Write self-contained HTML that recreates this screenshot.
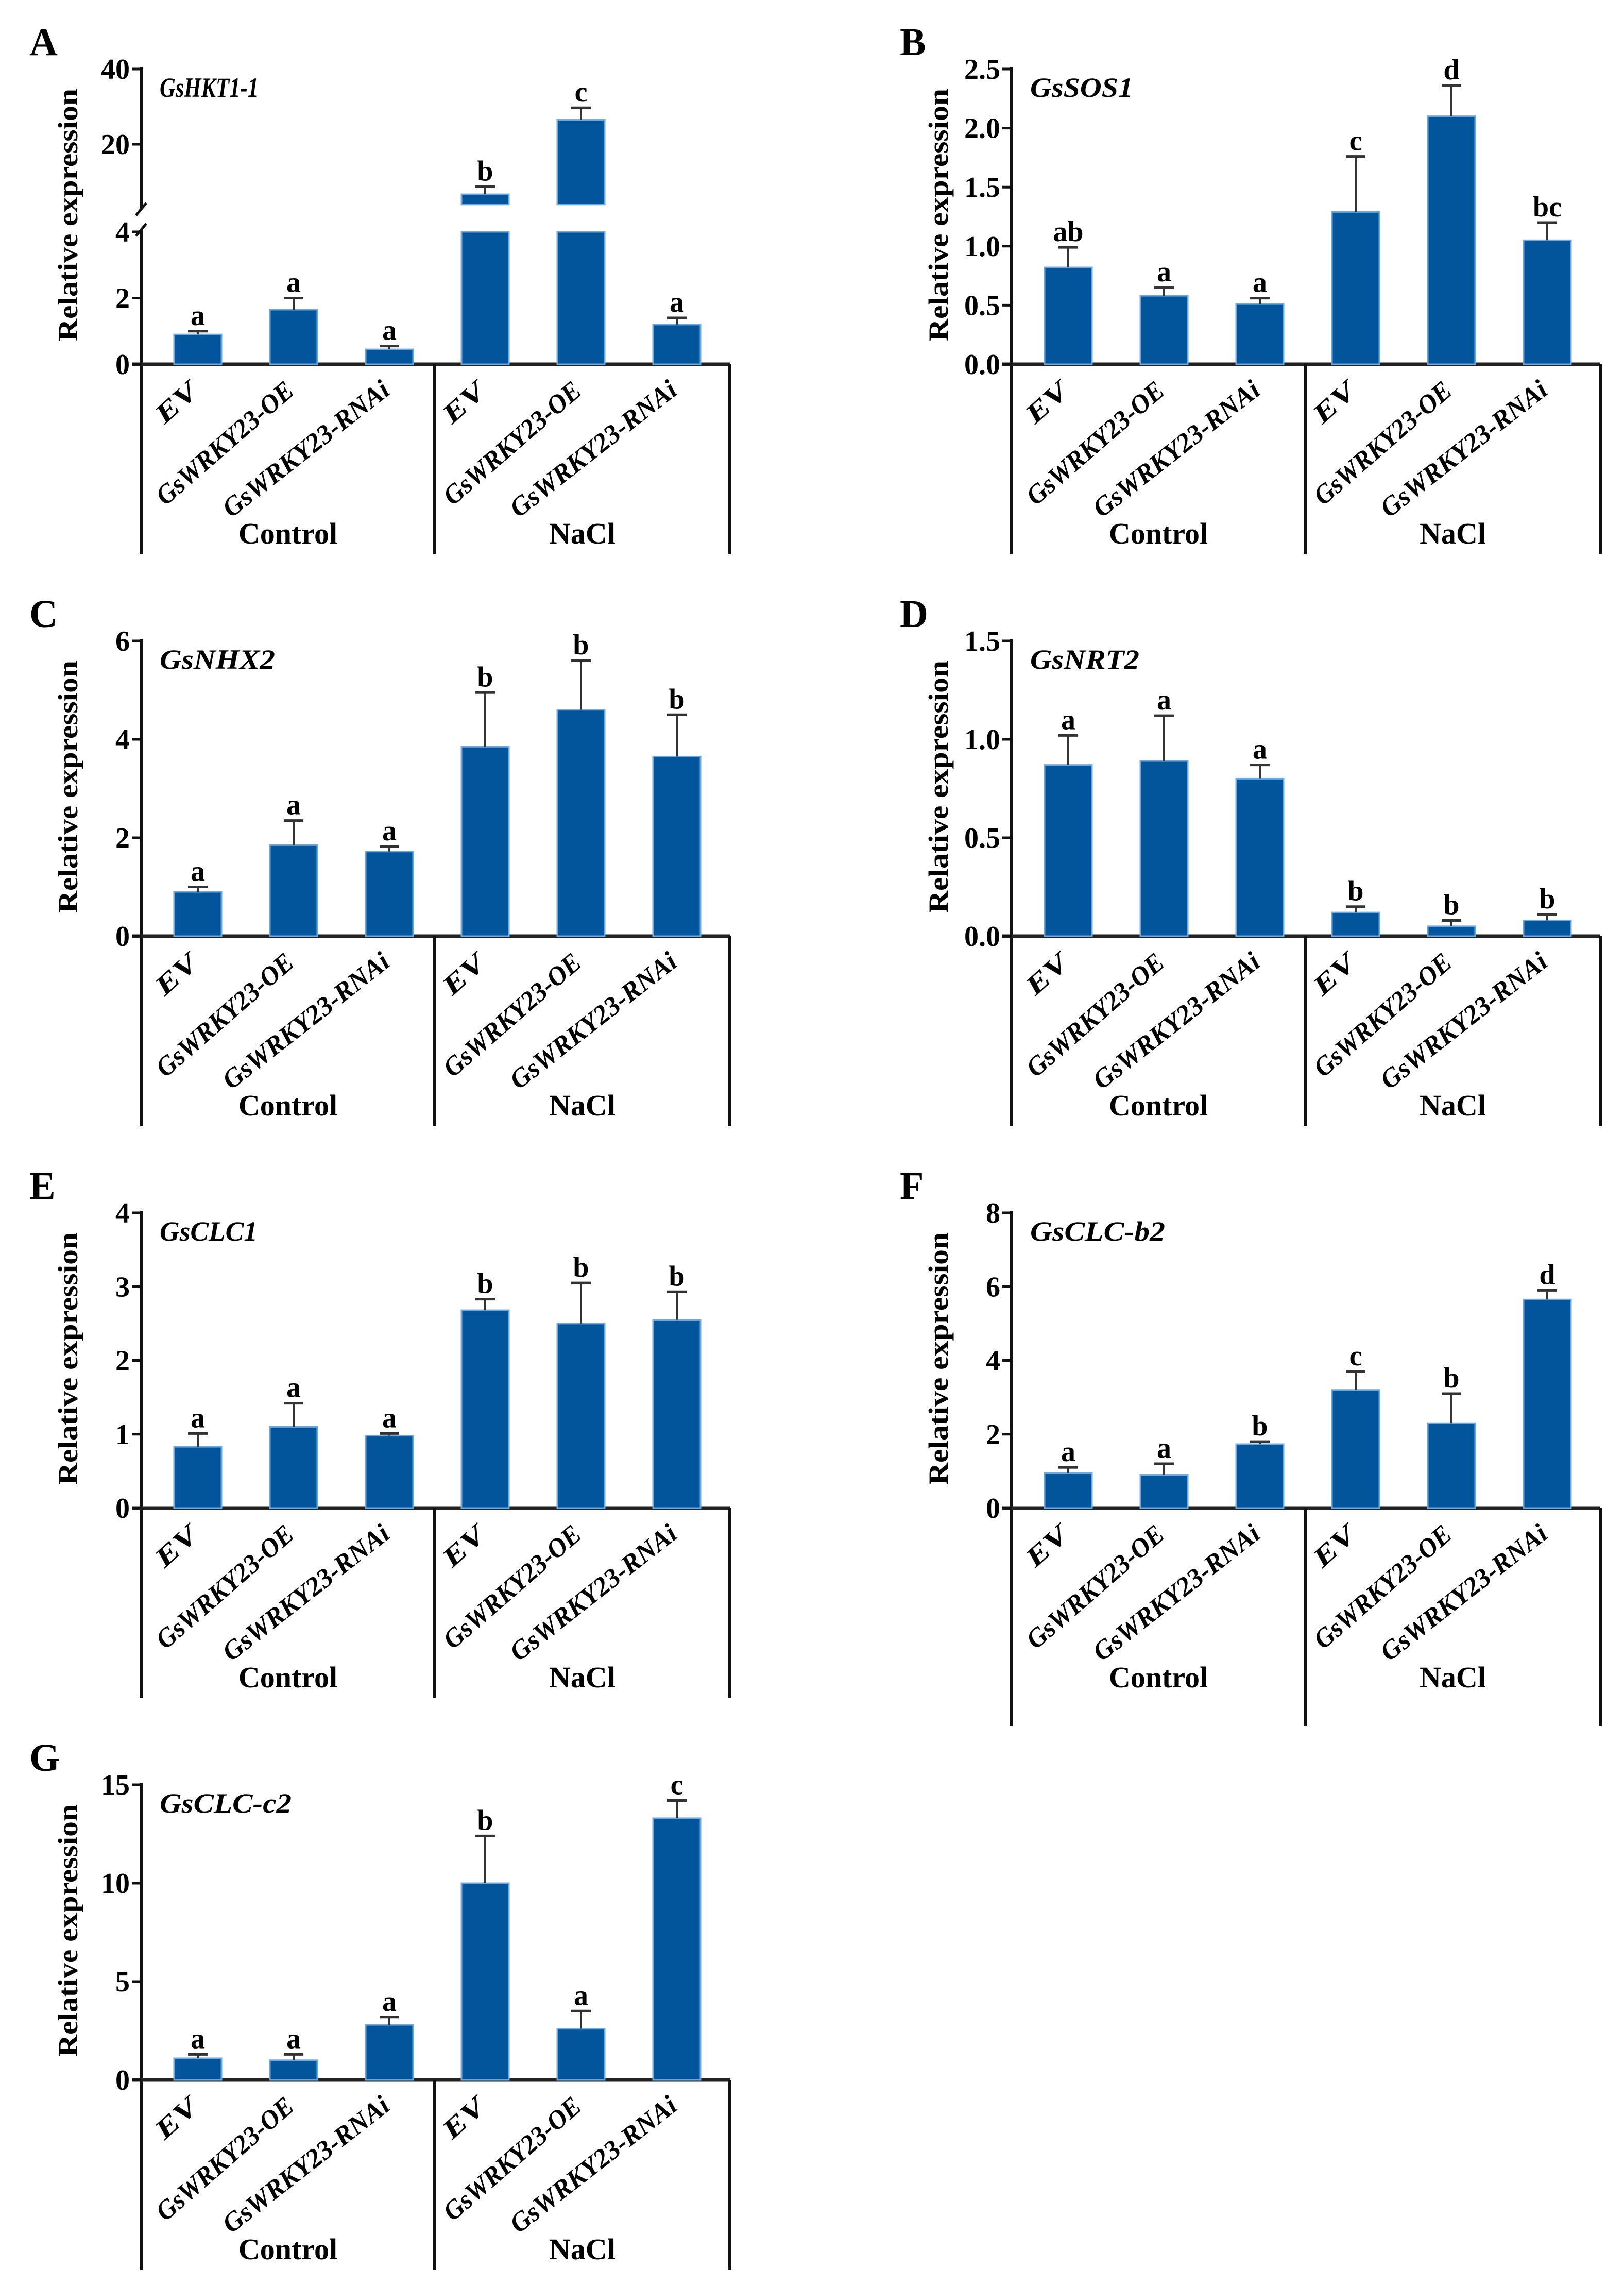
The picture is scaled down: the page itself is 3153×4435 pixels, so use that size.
<!DOCTYPE html>
<html><head><meta charset="utf-8"><style>
html,body{margin:0;padding:0;background:#fff;}
svg{display:block;}
text{font-family:"Liberation Serif",serif;font-weight:bold;}
</style></head><body>
<svg id="fig" width="3153" height="4435" viewBox="0 0 3153 4435" xmlns="http://www.w3.org/2000/svg"></svg>
<script>
const categories = ["EV","GsWRKY23-OE","GsWRKY23-RNAi","EV","GsWRKY23-OE","GsWRKY23-RNAi"];
const groups = ["Control","NaCl"];
const valsA = [0.9,1.65,0.45,6.7,26.5,1.2];
const errsA = [0.1,0.35,0.1,2.0,3.2,0.2];
const letA = ["a","a","a","b","c","a"];
const valsB = [0.82,0.58,0.51,1.29,2.1,1.05];
const errsB = [0.17,0.07,0.05,0.47,0.26,0.15];
const letB = ["ab","a","a","c","d","bc"];
const valsC = [0.9,1.85,1.72,3.85,4.6,3.65];
const errsC = [0.1,0.5,0.1,1.1,1.0,0.85];
const letC = ["a","a","a","b","b","b"];
const valsD = [0.87,0.89,0.8,0.12,0.05,0.08];
const errsD = [0.15,0.23,0.07,0.03,0.03,0.03];
const letD = ["a","a","a","b","b","b"];
const valsE = [0.83,1.1,0.98,2.68,2.5,2.55];
const errsE = [0.18,0.32,0.03,0.15,0.55,0.38];
const letE = ["a","a","a","b","b","b"];
const valsF = [0.95,0.9,1.73,3.2,2.3,5.65];
const errsF = [0.15,0.3,0.07,0.5,0.8,0.25];
const letF = ["a","a","b","c","b","d"];
const valsG = [1.1,1.0,2.8,10.0,2.6,13.3];
const errsG = [0.2,0.3,0.4,2.4,0.9,0.9];
const letG = ["a","a","a","b","a","c"];
const ticksA_low = [0,2,4];
const ticksA_high = [20,40];
const ticksB = [0,0.5,1.0,1.5,2.0,2.5];
const ticksC = [0,2,4,6];
const ticksD = [0,0.5,1.0,1.5];
const ticksE = [0,1,2,3,4];
const ticksF = [0,2,4,6,8];
const ticksG = [0,5,10,15];

const NS="http://www.w3.org/2000/svg";
const svg=document.getElementById('fig');
function mk(tag,attrs,parent,txt){const e=document.createElementNS(NS,tag);for(const k in attrs)e.setAttribute(k,attrs[k]);if(txt!==undefined)e.textContent=txt;(parent||svg).appendChild(e);return e;}

const BAR="#02549b", EDGE="#6fa8dc";
const W=1143, SEP=570, H=573;

function panel(cfg){
  const g=mk('g',{});
  
  
  const ax=cfg.x, zy=cfg.zero, top=zy-H, bottom=zy+(cfg.extra||368);
  const max=cfg.ticks[cfg.ticks.length-1];
  const yS = cfg.yScale || (v=>zy-(v/max)*H);
  const pl=mk('text',{x:ax-217,y:zy-600,'font-size':76},g,cfg.letter);
  
  
  const yt=mk('text',{x:0,y:0,'font-size':54,'text-anchor':'middle',transform:`translate(${ax-124},${zy-290}) rotate(-90)`,textLength:490,lengthAdjust:'spacingAndGlyphs'},g,'Relative expression');
  
  
  const gt=mk('text',{x:ax+36,y:top+54,'font-size':54,'font-style':'italic',textLength:cfg.glen,lengthAdjust:'spacingAndGlyphs'},g,cfg.gene);
  
  
  if(cfg.broken){
    const a1=mk('line',{x1:ax,y1:top-3,x2:ax,y2:404,stroke:'#111','stroke-width':6},g);
    
    const a2=mk('line',{x1:ax,y1:446,x2:ax,y2:bottom,stroke:'#111','stroke-width':6},g);
    
    mk('line',{x1:ax-10,y1:418,x2:ax+10,y2:394,stroke:'#111','stroke-width':5},g);
    mk('line',{x1:ax-10,y1:458,x2:ax+10,y2:434,stroke:'#111','stroke-width':5},g);
  } else {
    const a=mk('line',{x1:ax,y1:top-3,x2:ax,y2:bottom,stroke:'#111','stroke-width':6},g);
    
  }
  const xa=mk('line',{x1:ax-18,y1:zy,x2:ax+W,y2:zy,stroke:'#222','stroke-width':7},g);
  
  mk('line',{x1:ax+SEP,y1:zy,x2:ax+SEP,y2:bottom,stroke:'#111','stroke-width':6},g);
  mk('line',{x1:ax+W,y1:zy,x2:ax+W,y2:bottom,stroke:'#111','stroke-width':6},g);
  cfg.ticks.forEach(t=>{
    const y=yS(t);
    mk('line',{x1:ax-18,y1:y,x2:ax,y2:y,stroke:'#111','stroke-width':5},g);
    const tl=mk('text',{x:ax-22,y:y+19,'font-size':56,'text-anchor':'end'},g,cfg.fmt?t.toFixed(1):String(t));
    
  });
  cfg.vals.forEach((v,i)=>{
    const bx=ax+64+i*186, bw=92, cx=bx+bw/2;
    if(cfg.broken && v>4){
      const r1=mk('rect',{x:bx,y:yS(4),width:bw,height:zy-yS(4),fill:BAR,stroke:EDGE,'stroke-width':3},g);
      
      const u=cfg.upper;
      const r2=mk('rect',{x:bx,y:u(v),width:bw,height:u(4)-u(v),fill:BAR,stroke:EDGE,'stroke-width':3},g);
      
    } else {
      const r=mk('rect',{x:bx,y:yS(v),width:bw,height:zy-yS(v),fill:BAR,stroke:EDGE,'stroke-width':3},g);
      
    }
    const f=(cfg.broken&&v>4)?cfg.upper:yS;
    const y0=f(v), y1=f(v+cfg.errs[i]);
    const eb=mk('line',{x1:cx,y1:y0,x2:cx,y2:y1,stroke:'#333','stroke-width':4},g);
    
    mk('line',{x1:cx-19,y1:y1,x2:cx+19,y2:y1,stroke:'#333','stroke-width':5},g);
    const sl=mk('text',{x:cx,y:y1-12,'font-size':56,'text-anchor':'middle'},g,cfg.letters[i]);
    
    const len=[92,335,395][i%3];
    const ang=[42,41,38][i%3];
    const cl=mk('text',{x:0,y:0,'font-size':52,'font-style':'italic','text-anchor':'end',textLength:len,lengthAdjust:'spacingAndGlyphs',transform:`translate(${cx+4},${zy+56}) rotate(-${ang})`},g,categories[i]);
    
  });
  groups.forEach((gn,k)=>{
    const cxg=ax+(k===0?SEP/2:(SEP+W)/2);
    const gl=mk('text',{x:cxg,y:zy+348,'font-size':58,'text-anchor':'middle'},g,gn);
    
  });
}

const L=274, R=1964, Z=[707,1817,2927,4037];
const upperA=v=>280-(v-20)*7.3;
const lowerA=v=>707-v*64.25;
panel({letter:'A',gene:'GsHKT1-1',glen:192,x:L,zero:Z[0],vals:valsA,errs:errsA,letters:letA,broken:true,
  ticks:ticksA_low.concat(ticksA_high),upper:upperA,
  yScale:v=>v<=4?lowerA(v):upperA(v)});
panel({letter:'B',gene:'GsSOS1',glen:200,x:R,zero:Z[0],vals:valsB,errs:errsB,letters:letB,ticks:ticksB,fmt:true});
panel({letter:'C',gene:'GsNHX2',glen:224,x:L,zero:Z[1],vals:valsC,errs:errsC,letters:letC,ticks:ticksC});
panel({letter:'D',gene:'GsNRT2',glen:212,x:R,zero:Z[1],vals:valsD,errs:errsD,letters:letD,ticks:ticksD,fmt:true});
panel({letter:'E',gene:'GsCLC1',glen:190,x:L,zero:Z[2],vals:valsE,errs:errsE,letters:letE,ticks:ticksE});
panel({letter:'F',gene:'GsCLC-b2',glen:262,x:R,zero:Z[2],vals:valsF,errs:errsF,letters:letF,ticks:ticksF,extra:423});
panel({letter:'G',gene:'GsCLC-c2',glen:256,x:L,zero:Z[3],vals:valsG,errs:errsG,letters:letG,ticks:ticksG});
</script>
</body></html>
